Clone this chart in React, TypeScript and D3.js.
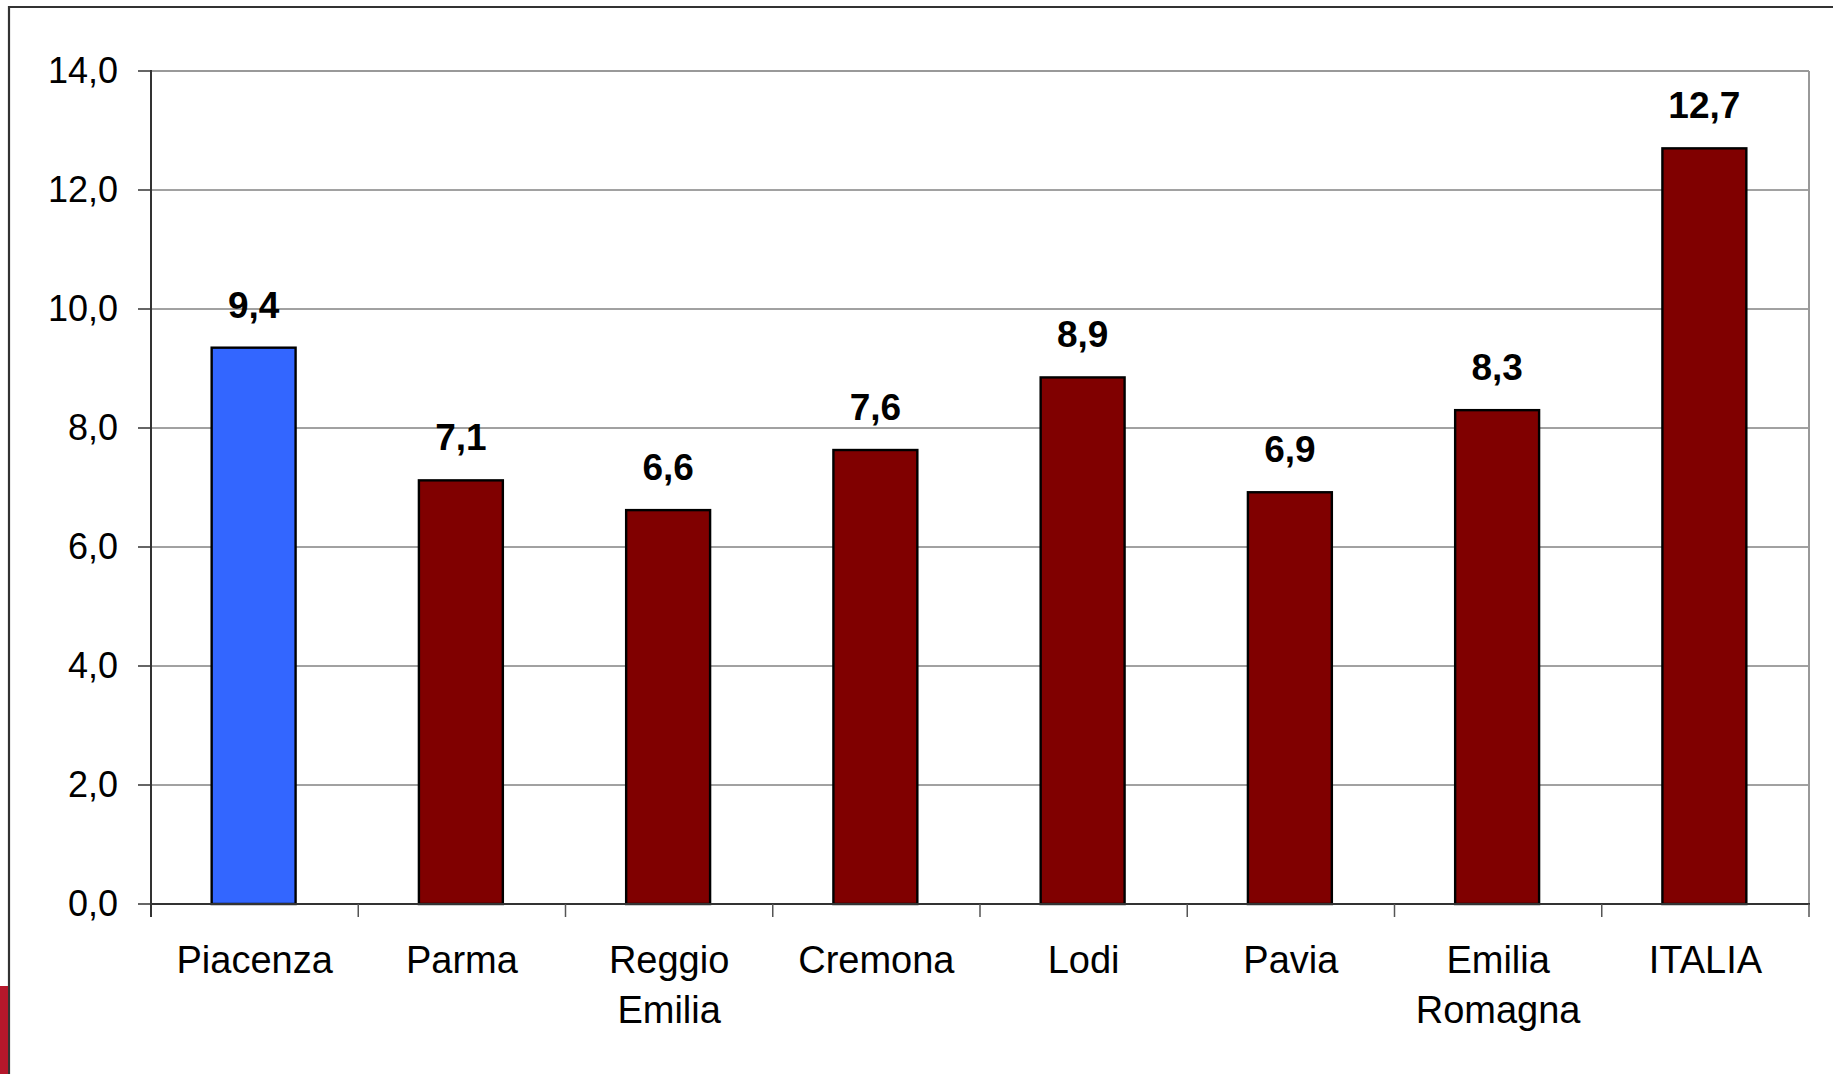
import React from "react";
import * as d3 from "d3";

const categories: string[][] = [
  ["Piacenza"],
  ["Parma"],
  ["Reggio", "Emilia"],
  ["Cremona"],
  ["Lodi"],
  ["Pavia"],
  ["Emilia", "Romagna"],
  ["ITALIA"],
];
const values: number[] = [9.35, 7.12, 6.62, 7.63, 8.85, 6.92, 8.3, 12.7];
const valueLabels: string[] = ["9,4", "7,1", "6,6", "7,6", "8,9", "6,9", "8,3", "12,7"];
const yTicks: number[] = [0, 2, 4, 6, 8, 10, 12, 14];
const highlightIndex = 0;

const W = 1833;
const H = 1074;
const left = 151;
const right = 1809;
const top = 71;
const bottom = 904;
const FONT = "'Liberation Sans', Arial, sans-serif";

export default function App() {
  const x = d3
    .scaleBand<number>()
    .domain(values.map((_, i) => i))
    .range([left, right])
    .paddingInner(0)
    .paddingOuter(0);
  const y = d3.scaleLinear().domain([0, 14]).range([bottom, top]);
  const bw = x.bandwidth() * 0.405;
  const fmt = (v: number) => v.toFixed(1).replace(".", ",");

  return (
    <svg
      width={W}
      height={H}
      style={{ position: "absolute", left: 0, top: 0, background: "#fff" }}
      fontFamily={FONT}
    >
      <rect x={0} y={0} width={W} height={H} fill="#fff" />
      {/* outer frame */}
      <line x1={9} x2={W} y1={7} y2={7} stroke="#333" strokeWidth={2.2} />
      <line x1={9} x2={9} y1={6} y2={H} stroke="#333" strokeWidth={2.2} />
      <rect x={0} y={986} width={8} height={H - 986} fill="#b5172b" />

      {/* gridlines */}
      {yTicks
        .filter((t) => t > 0 && t < 14)
        .map((t) => (
          <line key={"g" + t} x1={left} x2={right} y1={y(t)} y2={y(t)} stroke="#444" strokeWidth={1} />
        ))}
      {/* plot border top/right */}
      <line x1={left} x2={right} y1={y(14)} y2={y(14)} stroke="#999" strokeWidth={2} />
      <line x1={right} x2={right} y1={y(14)} y2={bottom} stroke="#999" strokeWidth={2} />

      {/* bars */}
      {values.map((v, i) => {
        const cx = x(i)! + x.bandwidth() / 2 - 1;
        return (
          <g key={"b" + i}>
            <rect
              x={cx - bw / 2}
              y={y(v)}
              width={bw}
              height={bottom - y(v)}
              fill={i === highlightIndex ? "#3366FF" : "#800000"}
              stroke="#000"
              strokeWidth={2.4}
            />
            <text
              x={cx}
              y={y(v) - 30}
              textAnchor="middle"
              fontSize={37}
              fontWeight="bold"
              fill="#000"
            >
              {valueLabels[i] ?? fmt(v)}
            </text>
          </g>
        );
      })}

      {/* y axis */}
      <line x1={left} x2={left} y1={y(14) - 1} y2={bottom + 13} stroke="#333" strokeWidth={2} />
      {yTicks.map((t) => (
        <g key={"y" + t}>
          <line x1={138} x2={left} y1={y(t)} y2={y(t)} stroke="#333" strokeWidth={1.5} />
          <text x={118} y={y(t)} dy="0.32em" textAnchor="end" fontSize={36} fill="#000">
            {fmt(t)}
          </text>
        </g>
      ))}

      {/* x axis */}
      <line x1={left} x2={right + 1} y1={bottom} y2={bottom} stroke="#333" strokeWidth={2} />
      {values.map((_, i) => (
        <line
          key={"xt" + i}
          x1={x(i)! + x.bandwidth()}
          x2={x(i)! + x.bandwidth()}
          y1={bottom}
          y2={bottom + 13}
          stroke="#555"
          strokeWidth={1.5}
        />
      ))}
      {categories.map((lines, i) => (
        <text
          key={"c" + i}
          x={x(i)! + x.bandwidth() / 2}
          y={973}
          textAnchor="middle"
          fontSize={38}
          fill="#000"
        >
          {lines.map((l, j) => (
            <tspan key={j} x={x(i)! + x.bandwidth() / 2} dy={j === 0 ? 0 : 50}>
              {l}
            </tspan>
          ))}
        </text>
      ))}
    </svg>
  );
}
